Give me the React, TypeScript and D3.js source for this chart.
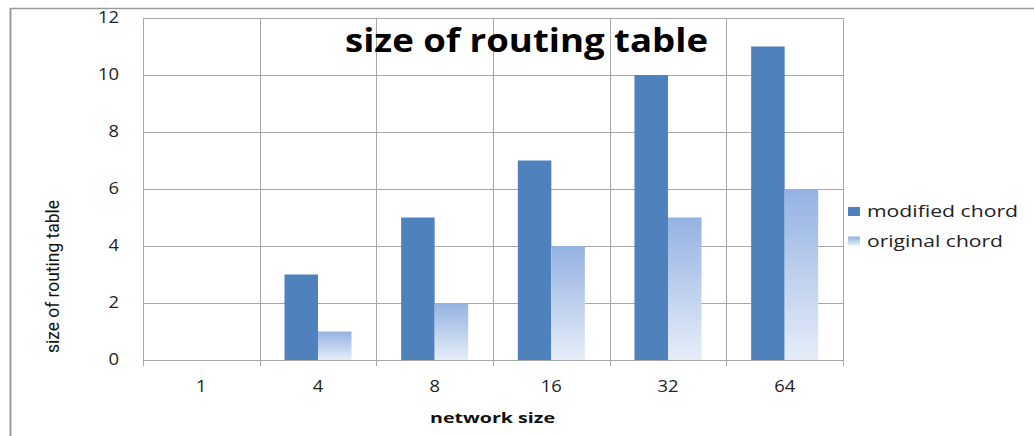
import { useEffect, useRef } from 'react'
import * as d3 from 'd3'

const categories = ['1', '4', '8', '16', '32', '64']
const modifiedChord = [0, 3, 5, 7, 10, 11]
const originalChord = [0, 1, 2, 4, 5, 6]
const yTicks = [0, 2, 4, 6, 8, 10, 12]
const seriesNames = ['modified chord', 'original chord']

export default function App() {
  const svgRef = useRef<SVGSVGElement | null>(null)
  const width = 1034
  const height = 436

  useEffect(() => {
    const svg = d3.select(svgRef.current)
    svg.selectAll('*').remove()

    const margin = { top: 18, right: 191, bottom: 76, left: 143 }
    const innerW = width - margin.left - margin.right
    const innerH = height - margin.top - margin.bottom
    const gridColor = '#a6a6a6'
    const font = "'Open Sans', 'DejaVu Sans', sans-serif"

    const defs = svg.append('defs')
    const grad = defs.append('linearGradient')
      .attr('id', 'orig-grad')
      .attr('x1', 0).attr('y1', 0).attr('x2', 0).attr('y2', 1)
    grad.append('stop').attr('offset', '0%').attr('stop-color', '#94b2e2')
    grad.append('stop').attr('offset', '100%').attr('stop-color', '#e6edf8')

    // outer frame (top and left edges)
    svg.append('line')
      .attr('x1', 10).attr('x2', width).attr('y1', 8.5).attr('y2', 8.5)
      .attr('stroke', '#9a9a9a').attr('stroke-width', 1.5)
    svg.append('line')
      .attr('x1', 10.5).attr('x2', 10.5).attr('y1', 8).attr('y2', height)
      .attr('stroke', '#9a9a9a').attr('stroke-width', 2)

    const g = svg.append('g')
      .attr('transform', `translate(${margin.left},${margin.top})`)

    const x = d3.scaleBand().domain(categories).range([0, innerW]).padding(0)
    const x1 = d3.scaleBand().domain(seriesNames).range([0, x.bandwidth()])
      .paddingOuter(0.74).paddingInner(0)
    const y = d3.scaleLinear().domain([0, 12]).range([innerH, 0])

    // horizontal gridlines
    g.selectAll('.hgrid')
      .data(yTicks)
      .join('line')
      .attr('x1', 0).attr('x2', innerW)
      .attr('y1', d => Math.round(y(d)) + 0.5).attr('y2', d => Math.round(y(d)) + 0.5)
      .attr('stroke', gridColor)

    // vertical gridlines at category boundaries
    const bounds = categories.map(c => x(c) as number).concat([innerW])
    g.selectAll('.vgrid')
      .data(bounds)
      .join('line')
      .attr('x1', d => Math.round(d) + 0.5).attr('x2', d => Math.round(d) + 0.5)
      .attr('y1', 0).attr('y2', innerH + 6)
      .attr('stroke', gridColor)

    // bars
    const groups = g.selectAll('.grp')
      .data(categories)
      .join('g')
      .attr('transform', d => `translate(${x(d)},0)`)

    groups.append('rect')
      .attr('x', x1('modified chord') as number)
      .attr('width', x1.bandwidth())
      .attr('y', (_d, i) => y(modifiedChord[i]))
      .attr('height', (_d, i) => innerH - y(modifiedChord[i]))
      .attr('fill', '#4f81bd')

    groups.append('rect')
      .attr('x', x1('original chord') as number)
      .attr('width', x1.bandwidth())
      .attr('y', (_d, i) => y(originalChord[i]))
      .attr('height', (_d, i) => innerH - y(originalChord[i]))
      .attr('fill', 'url(#orig-grad)')

    // y tick labels (stretched horizontally like the source image)
    g.selectAll('.ylab')
      .data(yTicks)
      .join('text')
      .attr('transform', d => `translate(-24,${y(d)}) scale(1.15,1)`)
      .attr('dy', '0.3em')
      .attr('text-anchor', 'end')
      .style('font-family', font)
      .style('font-size', '16px')
      .attr('fill', '#222')
      .text(d => d)

    // x tick labels
    g.selectAll('.xlab')
      .data(categories)
      .join('text')
      .attr('transform', d => `translate(${(x(d) as number) + x.bandwidth() / 2},${innerH + 32}) scale(1.15,1)`)
      .attr('text-anchor', 'middle')
      .style('font-family', font)
      .style('font-size', '16px')
      .attr('fill', '#222')
      .text(d => d)

    // title
    svg.append('text')
      .attr('x', 345)
      .attr('y', 52)
      .attr('textLength', 363)
      .attr('lengthAdjust', 'spacingAndGlyphs')
      .style('font-family', font)
      .style('font-size', '33px')
      .style('font-weight', 'bold')
      .attr('fill', '#000')
      .text('size of routing table')

    // x axis title
    svg.append('text')
      .attr('x', 430)
      .attr('y', 423)
      .attr('textLength', 125)
      .attr('lengthAdjust', 'spacingAndGlyphs')
      .style('font-family', font)
      .style('font-size', '14px')
      .style('font-weight', 'bold')
      .attr('fill', '#111')
      .text('network size')

    // y axis title
    svg.append('text')
      .attr('transform', 'translate(59,353) rotate(-90)')
      .attr('textLength', 153)
      .attr('lengthAdjust', 'spacingAndGlyphs')
      .style('font-family', "'Liberation Sans Narrow', 'Roboto', sans-serif")
      .style('font-size', '19px')
      .attr('fill', '#111')
      .text('size of routing table')

    // legend
    const legend = svg.append('g').attr('transform', 'translate(848,207)')
    const fills = ['#4f81bd', 'url(#orig-grad)']
    const lens = [151, 136]
    seriesNames.forEach((name, i) => {
      legend.append('rect')
        .attr('x', 0).attr('y', i * 29.5)
        .attr('width', 12).attr('height', 9)
        .attr('fill', fills[i])
      legend.append('text')
        .attr('x', 19).attr('y', i * 29.5 + 10)
        .attr('textLength', lens[i])
        .attr('lengthAdjust', 'spacingAndGlyphs')
        .style('font-family', font)
        .style('font-size', '16px')
        .attr('fill', '#222')
        .text(name)
    })
  }, [])

  return (
    <svg
      ref={svgRef}
      width={width}
      height={height}
      style={{ position: 'absolute', left: 0, top: 0, background: '#fff' }}
    />
  )
}
